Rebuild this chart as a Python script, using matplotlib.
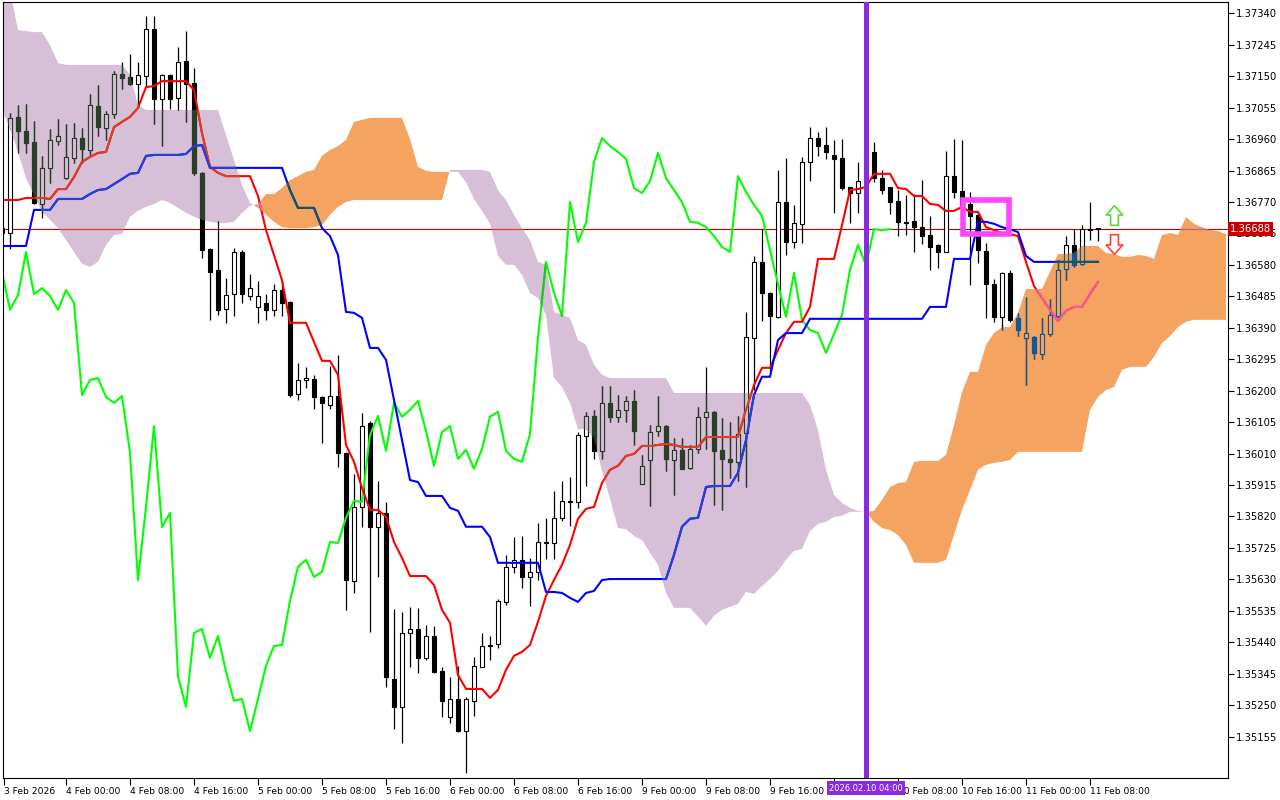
import numpy as np
import matplotlib
matplotlib.use('Agg')
import matplotlib.pyplot as plt
from matplotlib.path import Path
from matplotlib.patches import Rectangle
from matplotlib.colors import to_rgb

# H1 bars, bar 0 = 4 Feb 00:00 (weekend hours are skipped like in the terminal)
first_bar = -8

opens = [1.36691, 1.36676, 1.37027, 1.36984, 1.36951, 1.36764, 1.36873, 1.36954, 1.36842, 1.36903,
         1.36963, 1.36927, 1.37060, 1.36993, 1.37036, 1.37157, 1.37147, 1.37126, 1.37150, 1.37292,
         1.37081, 1.37153, 1.37084, 1.37196, 1.37129, 1.36858, 1.36628, 1.36565, 1.36447, 1.36492,
         1.36619, 1.36486, 1.36453, 1.36465, 1.36444, 1.36504, 1.36468, 1.36190, 1.36232, 1.36235,
         1.36181, 1.36157, 1.36184, 1.36012, 1.35625, 1.35849, 1.36103, 1.35788, 1.35831, 1.35329,
         1.35245, 1.35468, 1.35480, 1.35393, 1.35459, 1.35354, 1.35215, 1.35269, 1.35172, 1.35263,
         1.35366, 1.35429, 1.35435, 1.35562, 1.35668, 1.35689, 1.35637, 1.35653, 1.35743, 1.35740,
         1.35816, 1.35867, 1.35864, 1.36063, 1.36124, 1.36018, 1.36163, 1.36121, 1.36142, 1.36169,
         1.35918, 1.35991, 1.36078, 1.36093, 1.35991, 1.36021, 1.35967, 1.36024, 1.36121, 1.36136,
         1.36021, 1.35994, 1.35985, 1.36072, 1.36359, 1.36589, 1.36495, 1.36423, 1.36770, 1.36649,
         1.36704, 1.36891, 1.36963, 1.36942, 1.36912, 1.36903, 1.36815, 1.36797, 1.36833, 1.36921,
         1.36842, 1.36815, 1.36773, 1.36710, 1.36713, 1.36694, 1.36670, 1.36640, 1.36619, 1.36848,
         1.36803, 1.36764, 1.36731, 1.36622, 1.36522, 1.36423, 1.36556, 1.36420, 1.36359, 1.36362,
         1.36311, 1.36371, 1.36426, 1.36568, 1.36640, 1.36583, 1.36688, 1.36691]

highs = [1.36700, 1.37039, 1.37063, 1.37066, 1.37015, 1.36909, 1.36990, 1.37021, 1.37006, 1.37009,
         1.36993, 1.37096, 1.37123, 1.37045, 1.37166, 1.37193, 1.37217, 1.37193, 1.37332, 1.37332,
         1.37157, 1.37157, 1.37238, 1.37286, 1.37175, 1.36861, 1.36631, 1.36713, 1.36540, 1.36631,
         1.36625, 1.36553, 1.36531, 1.36492, 1.36522, 1.36534, 1.36471, 1.36284, 1.36272, 1.36248,
         1.36184, 1.36275, 1.36308, 1.36015, 1.35949, 1.36133, 1.36109, 1.35927, 1.35864, 1.35541,
         1.35532, 1.35547, 1.35544, 1.35493, 1.35490, 1.35366, 1.35336, 1.35369, 1.35275, 1.35396,
         1.35468, 1.35459, 1.35571, 1.35704, 1.35758, 1.35761, 1.35695, 1.35801, 1.35816, 1.35897,
         1.35927, 1.35940, 1.36075, 1.36136, 1.36142, 1.36214, 1.36214, 1.36187, 1.36184, 1.36202,
         1.36006, 1.36097, 1.36184, 1.36097, 1.36057, 1.36057, 1.36036, 1.36151, 1.36272, 1.36139,
         1.36118, 1.36106, 1.36124, 1.36438, 1.36607, 1.36688, 1.36498, 1.36867, 1.36903, 1.36761,
         1.36906, 1.36996, 1.36981, 1.36996, 1.36957, 1.36960, 1.36815, 1.36891, 1.36927, 1.36951,
         1.36867, 1.36815, 1.36806, 1.36791, 1.36794, 1.36836, 1.36728, 1.36643, 1.36924, 1.36960,
         1.36957, 1.36800, 1.36740, 1.36646, 1.36537, 1.36559, 1.36565, 1.36435, 1.36483, 1.36365,
         1.36420, 1.36477, 1.36595, 1.36667, 1.36688, 1.36700, 1.36770, 1.36691]

lows = [1.36667, 1.36628, 1.36918, 1.36918, 1.36764, 1.36722, 1.36827, 1.36942, 1.36839, 1.36888,
        1.36888, 1.36912, 1.36969, 1.36957, 1.37024, 1.37111, 1.37123, 1.37054, 1.37117, 1.37006,
        1.36939, 1.37051, 1.37048, 1.37012, 1.36852, 1.36601, 1.36414, 1.36429, 1.36405, 1.36426,
        1.36465, 1.36474, 1.36405, 1.36414, 1.36426, 1.36426, 1.36181, 1.36172, 1.36208, 1.36145,
        1.36042, 1.36145, 1.35970, 1.35538, 1.35589, 1.35788, 1.35471, 1.35637, 1.35305, 1.35178,
        1.35136, 1.35366, 1.35348, 1.35387, 1.35348, 1.35215, 1.35197, 1.35169, 1.35046, 1.35218,
        1.35366, 1.35387, 1.35423, 1.35553, 1.35650, 1.35604, 1.35550, 1.35628, 1.35692, 1.35692,
        1.35807, 1.35791, 1.35846, 1.35912, 1.35994, 1.35994, 1.36106, 1.36106, 1.36106, 1.36036,
        1.35918, 1.35852, 1.36063, 1.35958, 1.35885, 1.35964, 1.35964, 1.36012, 1.36024, 1.35855,
        1.35840, 1.35936, 1.35927, 1.35909, 1.36202, 1.36411, 1.36257, 1.36420, 1.36610, 1.36631,
        1.36646, 1.36833, 1.36909, 1.36900, 1.36737, 1.36806, 1.36707, 1.36737, 1.36806, 1.36830,
        1.36794, 1.36734, 1.36667, 1.36670, 1.36619, 1.36643, 1.36565, 1.36571, 1.36619, 1.36782,
        1.36734, 1.36519, 1.36586, 1.36420, 1.36408, 1.36383, 1.36408, 1.36365, 1.36217, 1.36296,
        1.36296, 1.36365, 1.36423, 1.36534, 1.36574, 1.36580, 1.36655, 1.36652]

closes = [1.36676, 1.37024, 1.36984, 1.36948, 1.36767, 1.36873, 1.36957, 1.36969, 1.36906, 1.36963,
          1.36930, 1.37063, 1.36996, 1.37036, 1.37157, 1.37144, 1.37126, 1.37153, 1.37292, 1.37081,
          1.37153, 1.37081, 1.37193, 1.37126, 1.36858, 1.36625, 1.36559, 1.36444, 1.36489, 1.36619,
          1.36492, 1.36510, 1.36486, 1.36444, 1.36504, 1.36465, 1.36187, 1.36232, 1.36238, 1.36181,
          1.36163, 1.36184, 1.36012, 1.35628, 1.35849, 1.36093, 1.35788, 1.35831, 1.35335, 1.35245,
          1.35468, 1.35480, 1.35393, 1.35459, 1.35351, 1.35263, 1.35269, 1.35172, 1.35269, 1.35369,
          1.35429, 1.35432, 1.35565, 1.35668, 1.35689, 1.35637, 1.35653, 1.35743, 1.35740, 1.35816,
          1.35867, 1.35864, 1.36066, 1.36124, 1.36018, 1.36163, 1.36121, 1.36142, 1.36169, 1.36078,
          1.35973, 1.36075, 1.36093, 1.35994, 1.36021, 1.35964, 1.36024, 1.36121, 1.36136, 1.36018,
          1.35994, 1.35985, 1.36069, 1.36362, 1.36589, 1.36495, 1.36426, 1.36770, 1.36649, 1.36707,
          1.36891, 1.36963, 1.36939, 1.36921, 1.36900, 1.36812, 1.36797, 1.36833, 1.36918, 1.36842,
          1.36806, 1.36770, 1.36710, 1.36707, 1.36694, 1.36667, 1.36634, 1.36619, 1.36848, 1.36800,
          1.36761, 1.36728, 1.36625, 1.36522, 1.36423, 1.36556, 1.36414, 1.36383, 1.36374, 1.36314,
          1.36371, 1.36429, 1.36565, 1.36640, 1.36580, 1.36688, 1.36685, 1.36688]

tenkan = [1.36776, 1.36776, 1.36776, 1.36782, 1.36782, 1.36782, 1.36779, 1.36809, 1.36809, 1.36845,
          1.36891, 1.36906, 1.36918, 1.36921, 1.36996, 1.37012, 1.37027, 1.37054, 1.37117, 1.37120,
          1.37135, 1.37135, 1.37135, 1.37135, 1.37108, 1.36978, 1.36876, 1.36858, 1.36848, 1.36848,
          1.36848, 1.36848, 1.36788, 1.36685, 1.36610, 1.36534, 1.36405, 1.36405, 1.36405, 1.36347,
          1.36290, 1.36290, 1.36248, 1.36036, 1.35985, 1.35906, 1.35840, 1.35840, 1.35819, 1.35743,
          1.35695, 1.35640, 1.35640, 1.35640, 1.35613, 1.35538, 1.35499, 1.35341, 1.35299, 1.35299,
          1.35299, 1.35272, 1.35296, 1.35357, 1.35399, 1.35411, 1.35432, 1.35502, 1.35580, 1.35628,
          1.35674, 1.35734, 1.35813, 1.35843, 1.35849, 1.35921, 1.35961, 1.35973, 1.36003, 1.36009,
          1.36033, 1.36033, 1.36036, 1.36039, 1.36036, 1.36030, 1.36030, 1.36030, 1.36060, 1.36060,
          1.36060, 1.36060, 1.36060, 1.36142, 1.36217, 1.36269, 1.36269, 1.36323, 1.36374, 1.36408,
          1.36408, 1.36453, 1.36598, 1.36598, 1.36598, 1.36700, 1.36806, 1.36809, 1.36815, 1.36855,
          1.36855, 1.36855, 1.36812, 1.36809, 1.36788, 1.36788, 1.36764, 1.36761, 1.36743, 1.36743,
          1.36755, 1.36740, 1.36740, 1.36694, 1.36685, 1.36676, 1.36673, 1.36667, 1.36589, 1.36516,
          1.36480, 1.36444, 1.36411, 1.36441, 1.36453, 1.36453, 1.36492, 1.36528]

kijun = ([1.36637] * 4 + [1.36746] * 3 + [1.36779] * 4
         + [1.36794, 1.36806, 1.36809, 1.36824, 1.36839, 1.36855, 1.36858, 1.36909]
         + [1.36912] * 4 + [1.36915, 1.36939, 1.36942] + [1.36873] * 10
         + [1.36806] + [1.36752] * 3
         + [1.36691, 1.36667, 1.36610, 1.36438, 1.36435, 1.36420, 1.36329, 1.36329, 1.36293, 1.36172,
            1.36051, 1.35930, 1.35924, 1.35882, 1.35882, 1.35882, 1.35846, 1.35837, 1.35789, 1.35789,
            1.35789, 1.35758]
         + [1.35680] * 6 + [1.35592, 1.35592, 1.35589, 1.35574, 1.35562, 1.35589, 1.35595, 1.35628]
         + [1.35631] * 8
         + [1.35704, 1.35789, 1.35813, 1.35816, 1.35909, 1.35912, 1.35912, 1.35912, 1.35952, 1.36051,
            1.36187, 1.36242, 1.36242, 1.36353, 1.36374, 1.36374, 1.36374]
         + [1.36417] * 15 + [1.36453] * 3 + [1.36598] * 3
         + [1.36710, 1.36710, 1.36704, 1.36694, 1.36688, 1.36679, 1.36607] + [1.36589] * 9)

# leading spans cover bars -8 .. 145
span_a = [1.37048, 1.36993, 1.36921, 1.36842, 1.36791, 1.36740, 1.36716, 1.36691, 1.36655, 1.36619,
          1.36583, 1.36574, 1.36589, 1.36640, 1.36670, 1.36673, 1.36725, 1.36743, 1.36755, 1.36764,
          1.36776, 1.36767, 1.36752, 1.36737, 1.36725, 1.36716, 1.36710, 1.36707, 1.36707, 1.36710,
          1.36737, 1.36758, 1.36764, 1.36794, 1.36794, 1.36812, 1.36836, 1.36848, 1.36861, 1.36867,
          1.36909, 1.36927, 1.36939, 1.36957, 1.37012, 1.37018, 1.37024, 1.37024, 1.37024, 1.37024,
          1.37024, 1.36960, 1.36876, 1.36864, 1.36861, 1.36861, 1.36861, 1.36861, 1.36830, 1.36779,
          1.36743, 1.36704, 1.36607, 1.36580, 1.36580, 1.36550, 1.36495, 1.36480, 1.36429, 1.36238,
          1.36211, 1.36163, 1.36084, 1.36084, 1.36057, 1.35958, 1.35873, 1.35785, 1.35782, 1.35761,
          1.35749, 1.35710, 1.35674, 1.35589, 1.35544, 1.35544, 1.35544, 1.35517, 1.35490, 1.35520,
          1.35538, 1.35547, 1.35556, 1.35592, 1.35586, 1.35610, 1.35631, 1.35656, 1.35689, 1.35716,
          1.35722, 1.35776, 1.35797, 1.35804, 1.35819, 1.35822, 1.35834, 1.35834, 1.35834, 1.35837,
          1.35870, 1.35909, 1.35921, 1.35924, 1.35985, 1.35988, 1.35988, 1.35988, 1.36006, 1.36096,
          1.36196, 1.36257, 1.36257, 1.36338, 1.36374, 1.36392, 1.36392, 1.36435, 1.36507, 1.36507,
          1.36507, 1.36559, 1.36613, 1.36613, 1.36616, 1.36637, 1.36637, 1.36637, 1.36616, 1.36613,
          1.36604, 1.36604, 1.36610, 1.36607, 1.36598, 1.36670, 1.36676, 1.36670, 1.36725, 1.36704,
          1.36694, 1.36685, 1.36682, 1.36673]

span_b = ([1.37410, 1.37410, 1.37289, 1.37286, 1.37283, 1.37283, 1.37244, 1.37190]
          + [1.37184] * 8 + [1.37154, 1.37063] + [1.37048] * 10 + [1.36972, 1.36897]
          + [1.36821, 1.36767, 1.36752, 1.36731, 1.36710, 1.36694, 1.36691, 1.36691, 1.36691, 1.36694,
             1.36700, 1.36731, 1.36755, 1.36770]
          + [1.36776] * 12 + [1.36867] * 5
          + [1.36861, 1.36806, 1.36776, 1.36731, 1.36691, 1.36655, 1.36589, 1.36580, 1.36438,
             1.36429, 1.36420, 1.36353, 1.36338, 1.36278, 1.36248]
          + [1.36238] * 8 + [1.36193] * 17
          + [1.36157, 1.36081, 1.35961, 1.35885, 1.35861, 1.35846, 1.35837, 1.35834, 1.35804,
             1.35785, 1.35779, 1.35764, 1.35734]
          + [1.35680] * 4
          + [1.35689, 1.35764, 1.35840, 1.35900, 1.35961, 1.35976, 1.35982, 1.35985, 1.35991]
          + [1.36015] * 9
          + [1.36142, 1.36181, 1.36202, 1.36211, 1.36263, 1.36272, 1.36272, 1.36272, 1.36302, 1.36344,
             1.36365, 1.36392, 1.36408]
          + [1.36414] * 5)

# the 10 Feb 00:00 label sits under the vertical line's date box, so it stays empty
tick_bars = [-7.8, 0, 8, 16, 24, 32, 40, 48, 56, 64, 72, 80, 88, 96, 104, 112, 120, 128]
tick_labels = ['3 Feb 2026', '4 Feb 00:00', '4 Feb 08:00', '4 Feb 16:00', '5 Feb 00:00',
               '5 Feb 08:00', '5 Feb 16:00', '6 Feb 00:00', '6 Feb 08:00', '6 Feb 16:00',
               '9 Feb 00:00', '9 Feb 08:00', '9 Feb 16:00', '', '10 Feb 08:00',
               '10 Feb 16:00', '11 Feb 00:00', '11 Feb 08:00']
price_ticks = np.round(np.arange(1.35155, 1.37350, 0.00095), 5)

last_price = 1.36688
vline_bar = 100
vline_text = '2026.02.10 04:00'
box_bars = (112.1, 117.9)
box_prices = (1.36673, 1.36776)
arrow_bar = 131
arrow_up_price = 1.36731
arrow_down_price = 1.36643

THISTLE = '#d8bfd8'
SANDY = '#f4a460'

bars = np.arange(first_bar, first_bar + len(opens))
cloud_bars = np.arange(first_bar, first_bar + len(span_a))

fig = plt.figure(figsize=(12.8, 8), dpi=100)
ax = fig.add_axes([3 / 1280, 22 / 800, 1225 / 1280, 776 / 800])
ax.set_xlim(-7.875, 145.25)
ax.set_ylim(1.35030, 1.37374)

sa = np.array(span_a)
sb = np.array(span_b)
bear = ax.fill_between(cloud_bars, sa, sb, where=sb > sa, interpolate=True,
                       facecolor=THISTLE, lw=0, zorder=1)
bull = ax.fill_between(cloud_bars, sa, sb, where=sa >= sb, interpolate=True,
                       facecolor=SANDY, lw=0, zorder=1)


def xor_tint(cloud):
    # the terminal paints the cloud in xor mode, so anything inside it changes colour
    base = np.round(np.array(to_rgb(cloud)) * 255).astype(int)

    def tint(col):
        v = np.round(np.array(to_rgb(col)) * 255).astype(int)
        return tuple((v ^ base ^ 255) / 255)
    return tint


def draw_layer(tint, clip=None, z=2):
    o, h, l, c = map(np.array, (opens, highs, lows, closes))
    arts = [ax.vlines(bars, l, h, colors=[tint('black')], lw=0.9, zorder=z)]
    faces = [tint('white') if up else tint('black') for up in (c >= o)]
    body = ax.bar(bars, np.abs(c - o), bottom=np.minimum(o, c), width=0.62, color=faces,
                  edgecolor=tint('black'), linewidth=0.8, zorder=z + 0.1)
    arts += list(body.patches)
    # chikou = closes drawn 26 bars back
    arts += ax.plot(bars[26:] - 26, c[26:], color=tint('#00ff00'), lw=1.5, zorder=z + 0.2)
    arts += ax.plot(bars, tenkan, color=tint('#ff0000'), lw=1.5, zorder=z + 0.3)
    arts += ax.plot(bars, kijun, color=tint('#0000ff'), lw=1.5, zorder=z + 0.3)
    arts.append(ax.axhline(last_price, color=tint('#c00000'), lw=0.8, zorder=z - 0.5))
    if clip is not None:
        for art in arts:
            art.set_clip_path(clip, ax.transData)


draw_layer(lambda col: to_rgb(col))
draw_layer(xor_tint(THISTLE), Path.make_compound_path(*bear.get_paths()), z=7)
draw_layer(xor_tint(SANDY), Path.make_compound_path(*bull.get_paths()), z=7)

ax.axvline(vline_bar, color='#8a2be2', lw=3.6, zorder=12)
ax.add_patch(Rectangle((box_bars[0], box_prices[0]), box_bars[1] - box_bars[0],
                       box_prices[1] - box_prices[0], fill=False, ec='#ff44ff', lw=4, zorder=13))

up_arrow = Path([(0, 1), (-0.84, 0.05), (-0.4, 0.05), (-0.4, -1), (0.4, -1), (0.4, 0.05),
                 (0.84, 0.05), (0, 1)])
down_arrow = Path([(x, -y) for x, y in up_arrow.vertices])
ax.scatter([arrow_bar], [arrow_up_price], marker=up_arrow, s=200, facecolor='white',
           edgecolor='#5bd83a', linewidth=1.2, zorder=14)
ax.scatter([arrow_bar], [arrow_down_price], marker=down_arrow, s=200, facecolor='white',
           edgecolor='#ff3c3c', linewidth=1.2, zorder=14)

ax.yaxis.tick_right()
ax.set_yticks(price_ticks)
ax.set_yticklabels([f'{p:.5f}' for p in price_ticks])
ax.tick_params(axis='y', direction='out', length=4, width=0.8, pad=1.5, labelsize=7.2)
ax.set_xticks(tick_bars)
ax.set_xticklabels(tick_labels)
ax.tick_params(axis='x', direction='out', length=5, width=0.8, pad=1.5, labelsize=6.6)
for lab in ax.get_xticklabels():
    lab.set_horizontalalignment('left')
for sp in ax.spines.values():
    sp.set_linewidth(0.8)
    sp.set_color('black')

ax.text(1.0015, last_price, f'{last_price:.5f}', transform=ax.get_yaxis_transform(),
        ha='left', va='center', fontsize=7.2, color='white', zorder=20,
        bbox=dict(boxstyle='square,pad=0.2', fc='#c80000', ec='none'))
ax.text(vline_bar, -0.0135, vline_text, transform=ax.get_xaxis_transform(),
        ha='center', va='center', fontsize=6.0, color='white', zorder=20, clip_on=False,
        bbox=dict(boxstyle='square,pad=0.3', fc='#8a2be2', ec='none'))

fig.savefig('out.png', dpi=100, facecolor='white')
